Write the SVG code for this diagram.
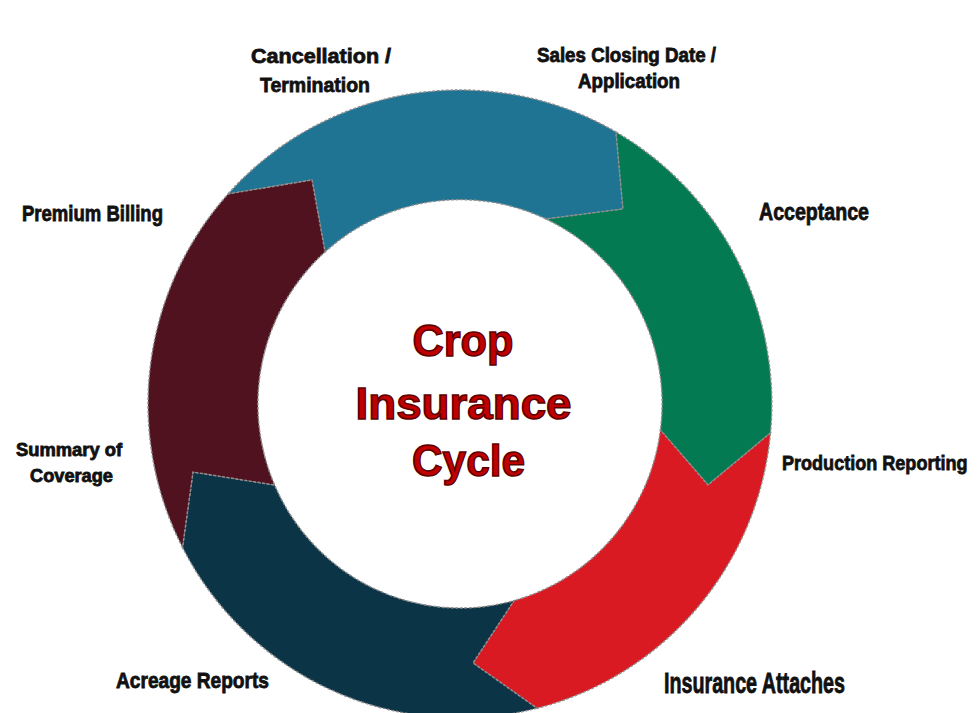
<svg xmlns="http://www.w3.org/2000/svg" width="980" height="713" viewBox="0 0 980 713">
  <style>
    .seg { stroke: #8f8f8f; stroke-width: 1.4; stroke-dasharray: 3 1.5; stroke-linejoin: miter; }
    .lbl { font-family: "Liberation Sans Narrow", "Liberation Sans", Arial, sans-serif; font-weight: bold; fill: #111; stroke: #111; stroke-width: 0.8; text-anchor: start; }
    .title { font-family: "Liberation Sans", Arial, sans-serif; font-weight: bold; font-size: 44px; fill: #c00000; stroke: #5c0000; stroke-width: 1.5; text-anchor: middle; }
  </style>
  <rect width="980" height="713" fill="#ffffff"/>

  <!-- ring of five arrow segments, clockwise -->
  <g id="connectors">
    <g id="seg-application">
      <path class="seg" fill="#1f7393" d="M228,194 A312,314 0 0 1 616,132 L623,209 L546,219 A202,204 0 0 0 325,252 L312,180 Z"/>
    </g>
    <g id="seg-acceptance">
      <path class="seg" fill="#047a53" d="M616,132 A312,314 0 0 1 770.5,433 L708,485 L660.4,430 A202,204 0 0 0 546,219 L623,209 Z"/>
    </g>
    <g id="seg-attaches">
      <path class="seg" fill="#da1a22" d="M770.5,433 A312,314 0 0 1 537,708.3 L473,663 L514,600.6 A202,204 0 0 0 660.4,430 L708,485 Z"/>
    </g>
    <g id="seg-reports">
      <path class="seg" fill="#0b3446" d="M537,708.3 A312,314 0 0 1 182.5,547.5 L193,472 L274.6,485 A202,204 0 0 0 514,600.6 L473,663 Z"/>
    </g>
    <g id="seg-billing">
      <path class="seg" fill="#511220" d="M182.5,547.5 A312,314 0 0 1 228,194 L312,180 L325,252 A202,204 0 0 0 274.6,485 L193,472 Z"/>
    </g>
  </g>

  <!-- centre title -->
  <g id="title">
    <text class="title" x="463" y="356" textLength="101" lengthAdjust="spacingAndGlyphs">Crop</text>
    <text class="title" x="463.5" y="419" textLength="216" lengthAdjust="spacingAndGlyphs">Insurance</text>
    <text class="title" x="468.5" y="476" textLength="113" lengthAdjust="spacingAndGlyphs">Cycle</text>
  </g>

  <!-- stage labels -->
  <g id="label-cancellation">
    <text class="lbl" x="251" y="63" font-size="21" textLength="140" lengthAdjust="spacingAndGlyphs">Cancellation /</text>
    <text class="lbl" x="260" y="92" font-size="21" textLength="110" lengthAdjust="spacingAndGlyphs">Termination</text>
  </g>
  <g id="label-sales">
    <text class="lbl" x="537" y="62" font-size="20" textLength="179" lengthAdjust="spacingAndGlyphs">Sales Closing Date /</text>
    <text class="lbl" x="578" y="88" font-size="20" textLength="102" lengthAdjust="spacingAndGlyphs">Application</text>
  </g>
  <g id="label-acceptance">
    <text class="lbl" x="759" y="220" font-size="23" textLength="110" lengthAdjust="spacingAndGlyphs">Acceptance</text>
  </g>
  <g id="label-premium">
    <text class="lbl" x="22" y="221" font-size="22" textLength="141" lengthAdjust="spacingAndGlyphs">Premium Billing</text>
  </g>
  <g id="label-summary">
    <text class="lbl" x="16" y="456" font-size="18" textLength="106" lengthAdjust="spacingAndGlyphs">Summary of</text>
    <text class="lbl" x="30" y="482" font-size="18" textLength="83" lengthAdjust="spacingAndGlyphs">Coverage</text>
  </g>
  <g id="label-production">
    <!-- condensed horizontally so the long label stays inside the page -->
    <text class="lbl" transform="translate(782,470) scale(0.86,1)" x="0" y="0" font-size="21">Production Reporting</text>
  </g>
  <g id="label-attaches">
    <text class="lbl" x="664" y="693" font-size="29" textLength="181" lengthAdjust="spacingAndGlyphs">Insurance Attaches</text>
  </g>
  <g id="label-acreage">
    <text class="lbl" x="116" y="688" font-size="22" textLength="153" lengthAdjust="spacingAndGlyphs">Acreage Reports</text>
  </g>
</svg>
